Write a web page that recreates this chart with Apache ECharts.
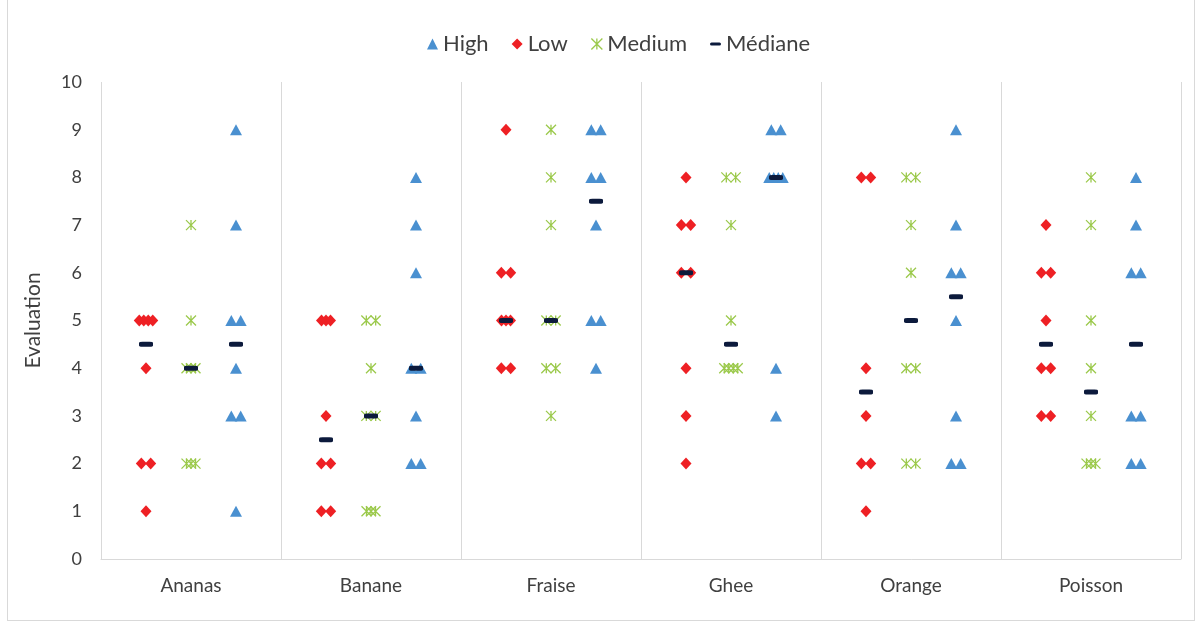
<!DOCTYPE html>
<html>
<head>
<meta charset="utf-8">
<script src="https://cdn.jsdelivr.net/npm/echarts@6/dist/echarts.min.js"></script>
<style>
  body { margin: 0; background: #fff; }
  #wrap { position: relative; width: 1203px; height: 623px; }
  #frame { position: absolute; left: 7px; top: -1px; width: 1188px; height: 622px; border: 1px solid #d9d9d9; box-sizing: border-box; }
  #chart { position: absolute; left: 0; top: 0; width: 1203px; height: 623px; }
</style>
</head>
<body>
<div id="wrap">
  <div id="frame"></div>
  <div id="chart"></div>
</div>
<script>
// one row per category
const categories = ['Ananas', 'Banane', 'Fraise', 'Ghee', 'Orange', 'Poisson'];
const lowVals = [
  [5, 5, 5, 5, 4, 2, 2, 1],
  [5, 5, 5, 3, 2, 2, 1, 1],
  [9, 6, 6, 5, 5, 5, 4, 4],
  [8, 7, 7, 6, 6, 4, 3, 2],
  [8, 8, 4, 3, 2, 2, 1],
  [7, 6, 6, 5, 4, 4, 3, 3]
];
const mediumVals = [
  [7, 5, 4, 4, 4, 2, 2, 2],
  [5, 5, 4, 3, 3, 1, 1, 1],
  [9, 8, 7, 5, 5, 4, 4, 3],
  [8, 8, 7, 5, 4, 4, 4, 4],
  [8, 8, 7, 6, 4, 4, 2, 2],
  [8, 7, 5, 4, 3, 2, 2, 2]
];
const highVals = [
  [9, 7, 5, 5, 4, 3, 3, 1],
  [8, 7, 6, 4, 4, 3, 2, 2],
  [9, 9, 8, 8, 7, 5, 5, 4],
  [9, 9, 8, 8, 8, 8, 4, 3],
  [9, 7, 6, 6, 5, 3, 2, 2],
  [8, 7, 6, 6, 3, 3, 2, 2]
];
// medians per category: [low, medium, high]
const medianVals = [
  [4.5, 4, 4.5],
  [2.5, 3, 4],
  [5, 5, 7.5],
  [6, 4.5, 8],
  [3.5, 5, 5.5],
  [4.5, 3.5, 4.5]
];
const yTicks = [0, 1, 2, 3, 4, 5, 6, 7, 8, 9, 10];

const groupPos = { low: 0.25, medium: 0.5, high: 0.75 };

// spread duplicate values sideways like the dot plot does
function dots(rows, pos) {
  const out = [];
  rows.forEach(function (vals, ci) {
    const counts = {};
    vals.forEach(function (v) { counts[v] = (counts[v] || 0) + 1; });
    Object.keys(counts).forEach(function (k) {
      const n = counts[k];
      for (let i = 0; i < n; i++) {
        let off = 0;
        if (n === 2) off = i === 0 ? -0.026 : 0.026;
        else if (n > 2) off = (i - (n - 1) / 2) * 0.025;
        out.push([ci + pos + off, Number(k)]);
      }
    });
  });
  return out;
}

const medianData = [];
medianVals.forEach(function (m, ci) {
  medianData.push([ci + groupPos.low, m[0]]);
  medianData.push([ci + groupPos.medium, m[1]]);
  medianData.push([ci + groupPos.high, m[2]]);
});

const starPath = 'path://M0,0L10,10M10,0L0,10M5,0L5,10';
const dashPath = 'path://M1.5,0L10.5,0A1.5,1.5,0,0,1,10.5,3.5L1.5,3.5A1.5,1.5,0,0,1,1.5,0Z';
const lineCol = '#d9d9d9';
const txtCol = '#404040';
const font = 'Lato, "Open Sans", sans-serif';

const chart = echarts.init(document.getElementById('chart'));
chart.setOption({
  animation: false,
  textStyle: { fontFamily: font },
  legend: {
    top: 28,
    left: 422,
    itemGap: 23,
    itemWidth: 11,
    itemHeight: 11,
    symbolKeepAspect: true,
    textStyle: { fontSize: 22, color: txtCol, fontFamily: font },
    data: [
      { name: 'High', icon: 'triangle' },
      { name: 'Low', icon: 'diamond' },
      { name: 'Medium', icon: starPath, itemStyle: { color: 'transparent', borderColor: '#9bc94b', borderWidth: 1.3 } },
      { name: 'Médiane', icon: dashPath }
    ]
  },
  grid: { left: 101, right: 22, top: 82, bottom: 64 },
  xAxis: [
    {
      type: 'value',
      min: 0,
      max: 6,
      interval: 1,
      axisLine: { show: true, lineStyle: { color: lineCol } },
      axisTick: { show: false },
      axisLabel: { show: false },
      splitLine: { show: true, lineStyle: { color: lineCol } }
    },
    {
      type: 'category',
      data: categories,
      position: 'bottom',
      boundaryGap: true,
      axisLine: { show: false },
      axisTick: { show: false },
      splitLine: { show: false },
      axisLabel: { margin: 17, fontSize: 19, color: txtCol, fontFamily: font }
    }
  ],
  yAxis: {
    type: 'value',
    min: yTicks[0],
    max: yTicks[yTicks.length - 1],
    interval: 1,
    name: 'Evaluation',
    nameLocation: 'middle',
    nameGap: 57,
    nameTextStyle: { fontSize: 21, color: txtCol, fontFamily: font },
    axisLine: { show: false },
    axisTick: { show: false },
    splitLine: { show: false },
    axisLabel: { margin: 19, fontSize: 18, color: txtCol, fontFamily: font }
  },
  series: [
    {
      name: 'High',
      type: 'scatter',
      symbol: 'triangle',
      symbolSize: [12, 11],
      itemStyle: { color: '#4a90d0', opacity: 1 },
      data: dots(highVals, groupPos.high)
    },
    {
      name: 'Low',
      type: 'scatter',
      symbol: 'diamond',
      symbolSize: [11, 12],
      itemStyle: { color: '#ee2024', opacity: 1 },
      data: dots(lowVals, groupPos.low)
    },
    {
      name: 'Medium',
      type: 'scatter',
      symbol: starPath,
      symbolSize: 10,
      itemStyle: { color: 'transparent', borderColor: '#9bc94b', borderWidth: 1.3, opacity: 1 },
      data: dots(mediumVals, groupPos.medium)
    },
    {
      name: 'Médiane',
      type: 'scatter',
      symbol: 'roundRect',
      symbolSize: [14, 5],
      z: 5,
      itemStyle: { color: '#0c1a3c', opacity: 1 },
      data: medianData
    }
  ]
});
</script>
</body>
</html>
